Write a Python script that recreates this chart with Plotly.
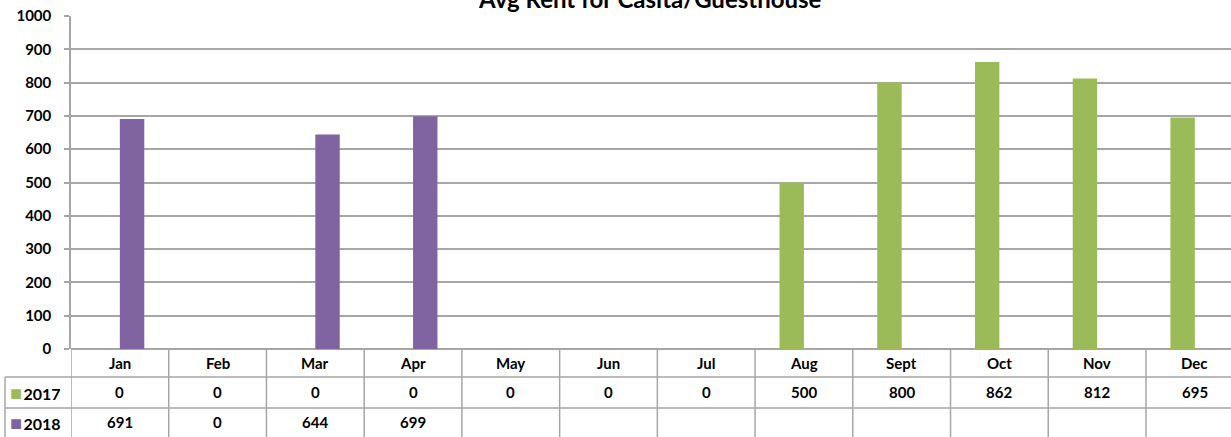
import plotly.graph_objects as go

months = ["Jan", "Feb", "Mar", "Apr", "May", "Jun", "Jul", "Aug", "Sept", "Oct", "Nov", "Dec"]
rent_2017 = [0, 0, 0, 0, 0, 0, 0, 500, 800, 862, 812, 695]
rent_2018 = [691, 0, 644, 699, None, None, None, None, None, None, None, None]
series_names = ["2017", "2018"]
series_colors = ["#9BBB59", "#8064A2"]
y_ticks = list(range(0, 1001, 100))
title_text = "Avg Rent for Casita/Guesthouse"

FONT = "Lato"
GRID = "#A6A6A6"

W, H = 1231, 437
ML, MR, MT, MB = 71, 0, 16, 88
plot_h = H - MT - MB
plot_w = W - ML - MR


def py(pix):
    """pixel y -> paper y"""
    return (H - MB - pix) / plot_h


def px(pix):
    return (pix - ML) / plot_w


fig = go.Figure()
for name, vals, col in zip(series_names, [rent_2017, rent_2018], series_colors):
    fig.add_trace(go.Bar(
        x=list(range(len(months))), y=vals, name=name,
        marker=dict(color=col, line=dict(width=0)),
        showlegend=False,
    ))

shapes = []
row_y = [py(349), py(377), py(408), py(437)]
# vertical column separators
for i in range(len(months) + 1):
    shapes.append(dict(type="line", xref="x", yref="paper", x0=i - 0.5, x1=i - 0.5,
                       y0=row_y[3], y1=row_y[0], line=dict(color=GRID, width=1.5)))
# horizontal row lines
for yy in row_y[1:3]:
    shapes.append(dict(type="line", xref="paper", yref="paper", x0=px(5), x1=1,
                       y0=yy, y1=yy, line=dict(color=GRID, width=1.5)))
# left edge of legend column
shapes.append(dict(type="line", xref="paper", yref="paper", x0=px(5), x1=px(5),
                   y0=row_y[3], y1=row_y[1], line=dict(color=GRID, width=1.5)))

annotations = []
tfont = dict(family=FONT, size=15, color="#000000")
for i, m in enumerate(months):
    annotations.append(dict(x=i, y=py(363), xref="x", yref="paper", text=f"<b>{m}</b>",
                            showarrow=False, font=tfont, xanchor="center", yanchor="middle"))
for vals, yc in zip([rent_2017, rent_2018], [py(392), py(422)]):
    for i, v in enumerate(vals):
        if v is None:
            continue
        annotations.append(dict(x=i, y=yc, xref="x", yref="paper", text=f"<b>{v}</b>",
                                showarrow=False, font=tfont, xanchor="center", yanchor="middle"))
for name, col, yc in zip(series_names, series_colors, [py(392), py(422)]):
    annotations.append(dict(x=px(8), y=yc, xref="paper", yref="paper",
                            text=f"<span style='color:{col};font-size:20px'>■</span><span style='font-size:5px'> </span><b>{name}</b>",
                            showarrow=False, font=dict(family=FONT, size=16, color="#000000"),
                            xanchor="left", yanchor="middle"))
annotations.append(dict(x=px(650), y=py(-1), xref="paper", yref="paper", text=f"<b>{title_text}</b>",
                        showarrow=False, font=dict(family=FONT, size=24, color="#000000"),
                        xanchor="center", yanchor="middle"))

fig.update_layout(
    width=W, height=H,
    margin=dict(l=ML, r=MR, t=MT, b=MB, autoexpand=False),
    paper_bgcolor="white", plot_bgcolor="white",
    barmode="group", bargap=0.5, bargroupgap=0,
    xaxis=dict(range=[-0.5, 11.37], showticklabels=False, showgrid=False, zeroline=False,
               showline=False, fixedrange=True, automargin=False),
    yaxis=dict(range=[0, 1000], tickvals=y_ticks, ticktext=[f"<b>{t}</b>" for t in y_ticks],
               tickfont=dict(family=FONT, size=15, color="#000000"), automargin=False,
               showgrid=True, gridcolor=GRID, gridwidth=1.5,
               showline=True, linecolor=GRID, linewidth=1.5,
               ticks="outside", ticklen=5, tickcolor=GRID, tickwidth=1.5,
               zeroline=True, zerolinecolor=GRID, zerolinewidth=1.5, ticklabelstandoff=10),
    shapes=shapes, annotations=annotations,
)

fig.write_html("out.html", config={"displayModeBar": False},
               post_script="document.body.style.margin='0';document.body.style.overflow='hidden';")
